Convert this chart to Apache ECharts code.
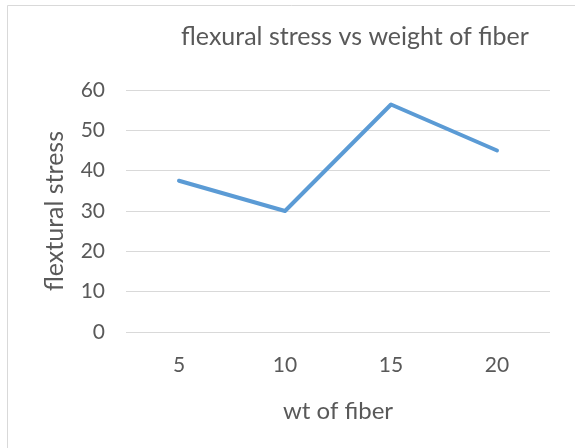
<!DOCTYPE html>
<html>
<head>
<meta charset="utf-8">
<script src="https://cdn.jsdelivr.net/npm/echarts@6/dist/echarts.min.js"></script>
<style>
html,body{margin:0;padding:0;background:#fff;}
#chart{width:575px;height:448px;}
</style>
</head>
<body>
<div id="chart"></div>
<script>
var categories = ['5', '10', '15', '20'];
var stressValues = [37.5, 30, 56.4, 45];
var yTicks = {min: 0, max: 60, interval: 10};
var titleText = 'flexural stress vs weight of fiber';
var xName = 'wt of fiber';
var yName = 'flextural stress';

var FONT = 'Lato';
var TXT = '#595959';
var chart = echarts.init(document.getElementById('chart'), null, {renderer: 'canvas'});
chart.setOption({
  animation: false,
  backgroundColor: '#ffffff',
  graphic: [{
    type: 'rect', left: 5, top: 3, silent: true,
    shape: {x: 0, y: 0, width: 620, height: 500},
    style: {fill: 'none', stroke: '#D9D9D9', lineWidth: 1}
  }],
  title: {
    text: titleText, left: 355, top: 24, textAlign: 'center', padding: 0,
    textStyle: {fontFamily: FONT, fontSize: 25, fontWeight: 'normal', color: TXT}
  },
  grid: {left: 126, right: 25, top: 90, bottom: 116, containLabel: false},
  xAxis: {
    type: 'category', data: categories, boundaryGap: true,
    name: xName, nameLocation: 'middle', nameGap: 67,
    nameTextStyle: {fontFamily: FONT, fontSize: 24, color: TXT},
    axisLine: {show: false}, axisTick: {show: false},
    axisLabel: {fontFamily: FONT, fontSize: 21, color: TXT, margin: 23},
    splitLine: {show: false}
  },
  yAxis: {
    type: 'value', min: yTicks.min, max: yTicks.max, interval: yTicks.interval,
    name: yName, nameLocation: 'middle', nameGap: 59, nameRotate: 90,
    nameTextStyle: {fontFamily: FONT, fontSize: 25, color: TXT},
    axisLine: {show: false}, axisTick: {show: false},
    axisLabel: {fontFamily: FONT, fontSize: 21, color: TXT, margin: 21},
    splitLine: {show: true, lineStyle: {color: '#D9D9D9', width: 1}}
  },
  series: [{
    type: 'line', data: stressValues, symbol: 'none', smooth: false,
    lineStyle: {color: '#5B9BD5', width: 4, cap: 'round', join: 'round'},
    itemStyle: {color: '#5B9BD5'}
  }]
});
</script>
</body>
</html>
